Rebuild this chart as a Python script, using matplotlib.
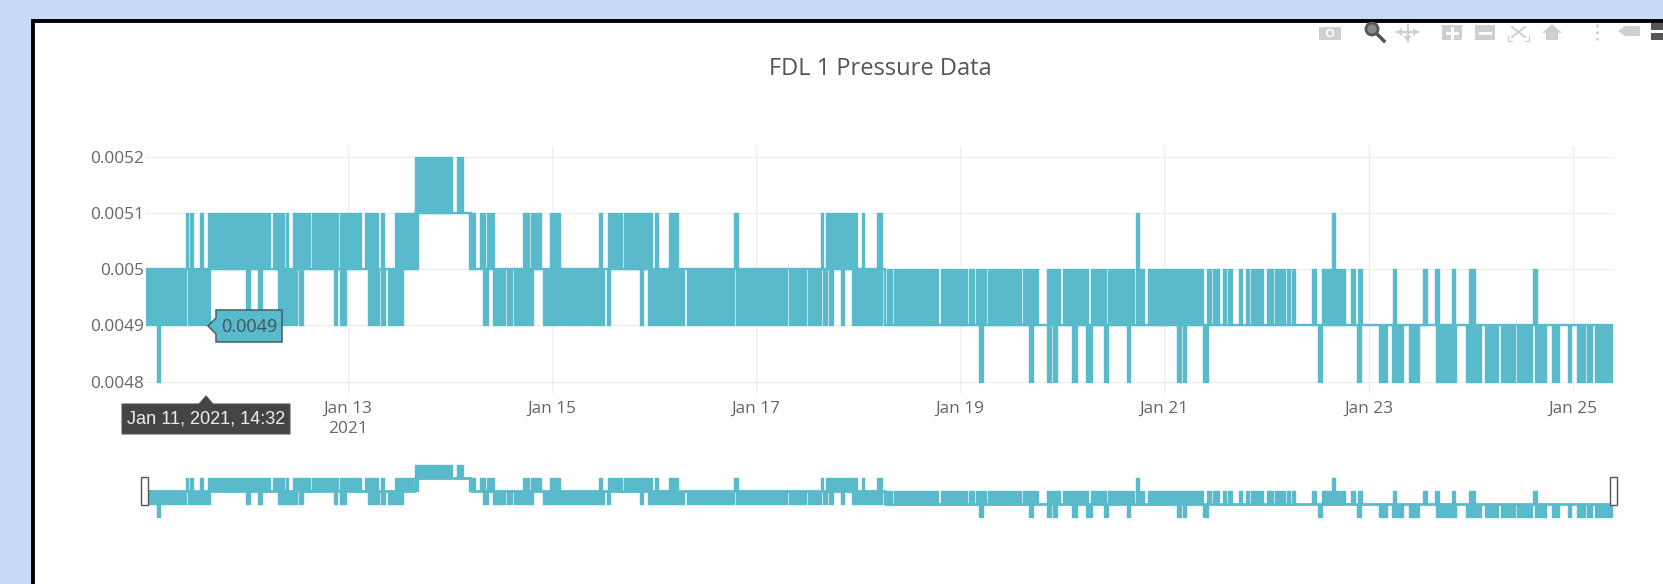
import datetime as dt
import matplotlib
matplotlib.use("Agg")
import matplotlib.pyplot as plt
import matplotlib.dates as mdates
from matplotlib.patches import Rectangle, Polygon, Circle

plt.rcParams['font.family'] = ['Open Sans', 'DejaVu Sans']

# ── Data ────────────────────────────────────────────────
# time is counted in samples (14.1 min) from T0
T0 = dt.datetime(2021, 1, 11, 0, 23)
SAMPLE_MIN = 14.104

# trace flips so fast between two levels that it reads as a solid band,
# so each list holds (from, to) sample spans where it is doing that
BAND_0051_0052 = [(270, 299), (300, 307), (312, 318)]

BAND_0050_0051 = [
    (41, 43), (45, 48), (55, 58), (63, 125), (128, 139), (141, 143), (148, 157),
    (158, 165), (167, 188), (189, 193), (195, 198), (199, 207), (208, 216),
    (220, 233), (236, 239), (250, 268), (270, 273), (324, 330), (335, 340),
    (342, 349), (378, 384), (386, 389), (390, 396), (405, 412), (413, 415),
    (454, 457), (463, 470), (471, 477), (479, 492), (493, 507), (510, 513),
    (524, 533), (589, 593), (676, 678), (681, 708), (709, 712), (717, 719),
    (732, 737), (991, 994), (1187, 1190),
]

BAND_0049_0050 = [
    (1, 41), (43, 47), (48, 65), (101, 105), (113, 117), (133, 147), (148, 152),
    (154, 158), (189, 192), (195, 201), (223, 234), (236, 240), (243, 258),
    (338, 343), (348, 360), (362, 367), (369, 388), (398, 421), (422, 442),
    (443, 459), (462, 465), (495, 498), (503, 539), (542, 589), (591, 642),
    (644, 661), (663, 676), (678, 682), (684, 688), (696, 699), (707, 737),
    (739, 740), (742, 747), (749, 793), (796, 822), (824, 829), (831, 841),
    (843, 876), (878, 893), (902, 906), (907, 915), (918, 934), (935, 943),
    (946, 952), (953, 961), (963, 989), (991, 999), (1003, 1058), (1062, 1066),
    (1068, 1074), (1078, 1081), (1083, 1087), (1094, 1097), (1101, 1104),
    (1106, 1118), (1122, 1128), (1130, 1140), (1142, 1145), (1147, 1150),
    (1167, 1171), (1177, 1200), (1206, 1210), (1213, 1217), (1248, 1251),
    (1278, 1282), (1290, 1294), (1307, 1310), (1324, 1330), (1388, 1392),
]

BAND_0048_0049 = [
    (12, 15), (834, 838), (884, 888), (902, 906), (908, 912), (927, 932),
    (941, 947), (959, 963), (982, 985), (1032, 1036), (1038, 1041), (1058, 1063),
    (1173, 1177), (1212, 1216), (1234, 1238), (1239, 1242), (1247, 1258),
    (1264, 1274), (1291, 1311), (1321, 1336), (1340, 1353), (1356, 1370),
    (1372, 1387), (1390, 1401), (1407, 1414), (1423, 1426), (1432, 1440),
    (1442, 1447), (1450, 1467),
]

# level the trace rests on between the bands
REST_SAMPLES = [1, 270, 326, 740, 1467]
REST_LEVELS = [0.005, 0.0051, 0.005, 0.0049, 0.0049]

Y_TICKS = [0.0048, 0.0049, 0.005, 0.0051, 0.0052]
Y_LABELS = ['0.0048', '0.0049', '0.005', '0.0051', '0.0052']
X_TICK_DAYS = [13, 15, 17, 19, 21, 23, 25]
X_LABELS = ['Jan 13\n2021', 'Jan 15', 'Jan 17', 'Jan 19', 'Jan 21', 'Jan 23', 'Jan 25']

TEAL = '#59BACB'
W, H = 1663, 584


def to_date(sample):
    return mdates.date2num(T0 + dt.timedelta(minutes=sample * SAMPLE_MIN))


def px_axes(zorder):
    """Full-figure axes that work in reference pixels"""
    a = fig.add_axes([0, 0, 1, 1], zorder=zorder)
    a.set_xlim(0, W)
    a.set_ylim(H, 0)
    a.axis('off')
    a.patch.set_alpha(0)
    return a


def data_axes(left, top, right, bottom):
    return fig.add_axes([left / W, 1 - bottom / H, (right - left) / W, (bottom - top) / H])


def draw_trace(ax, edge, rest_lw):
    lanes = [(BAND_0051_0052, 0.0051, 0.0052), (BAND_0050_0051, 0.005, 0.0051),
             (BAND_0049_0050, 0.0049, 0.005), (BAND_0048_0049, 0.0048, 0.0049)]
    for spans, lo, hi in lanes:
        for a, b in spans:
            ax.fill_between([to_date(a), to_date(b)], lo, hi, color=TEAL, lw=edge, zorder=3)
    ax.step([to_date(s) for s in REST_SAMPLES], REST_LEVELS, where='post',
            color=TEAL, lw=rest_lw, zorder=3)


fig = plt.figure(figsize=(W / 100, H / 100), dpi=100, facecolor='#C9DAF8')

# ── Card behind the charts ──────────────────────────────
back = px_axes(0)
back.add_patch(Rectangle((33, 21), W, H, facecolor='white', edgecolor='black', lw=2.8))

# ── Main chart ──────────────────────────────────────────
ax = data_axes(146, 146, 1614, 393)
ax.set_zorder(1)
ax.patch.set_alpha(0)
draw_trace(ax, 1.0, 1.7)
ax.set_xlim(to_date(1), to_date(1469))
ax.set_ylim(0.00478, 0.005219)
ax.set_yticks(Y_TICKS, Y_LABELS)
ax.set_xticks([mdates.date2num(dt.datetime(2021, 1, d)) for d in X_TICK_DAYS], X_LABELS)
ax.grid(color='#EEEEEE', lw=0.9)
ax.set_axisbelow(True)
ax.tick_params(length=0, labelsize=12.4, labelcolor='#666666')
ax.tick_params(axis='y', pad=1.5)
ax.tick_params(axis='x', pad=5.5)
for lab in ax.get_xticklabels():
    lab.set_linespacing(1.35)
for s in ax.spines.values():
    s.set_visible(False)
ax.set_title('FDL 1 Pressure Data', fontsize=17, color='#555555', pad=51)

# ── Range slider ────────────────────────────────────────
mini = data_axes(146, 460, 1614, 522)
mini.set_zorder(1)
draw_trace(mini, 1.0, 2.0)
mini.set_xlim(to_date(1), to_date(1469))
mini.set_ylim(0.0048 - 0.0000431, 0.0052 + 0.0000431)
mini.axis('off')

# ── Hover labels, slider handles, toolbar ───────────────
top = px_axes(5)
for x0 in (141, 1610):
    top.add_patch(Rectangle((x0, 477), 6.5, 28, facecolor='white', edgecolor='#555555', lw=1))

top.add_patch(Polygon([(208, 326), (216, 318), (216, 310), (282, 310), (282, 342), (216, 342), (216, 334)],
                      facecolor=TEAL, edgecolor='#3F5F68', lw=1.1))
top.text(249, 326.5, '0.0049', ha='center', va='center', fontsize=13, color='#3C5560')

top.add_patch(Polygon([(122, 404), (199, 404), (206, 396), (213, 404), (290, 404), (290, 434), (122, 434)],
                      facecolor='#444444', edgecolor='#555555', lw=0.8))
top.text(206, 419.5, 'Jan 11, 2021, 14:32', ha='center', va='center', fontsize=13.1,
         color='#EEEEEE', family=['Liberation Sans', 'DejaVu Sans'])

ICON = '#CFCFCF'
# camera
top.add_patch(Rectangle((1319, 27), 22, 13, facecolor=ICON, lw=0))
top.add_patch(Circle((1330, 33), 4.2, facecolor='white', lw=0))
top.add_patch(Circle((1330, 33), 2.6, facecolor=ICON, lw=0))
# zoom (active)
top.add_patch(Circle((1372, 29), 6, facecolor='#8A8A8A', edgecolor='#555555', lw=2))
top.plot([1377, 1384], [34, 41], color='#555555', lw=2.5)
# pan
top.plot([1397, 1418], [32, 32], color=ICON, lw=1.6)
top.plot([1407.5, 1407.5], [25, 41], color=ICON, lw=1.6)
top.add_patch(Polygon([(1397, 32), (1402, 28), (1402, 36)], facecolor=ICON, lw=0))
top.add_patch(Polygon([(1418, 32), (1413, 28), (1413, 36)], facecolor=ICON, lw=0))
top.add_patch(Polygon([(1407.5, 41), (1403.5, 36), (1411.5, 36)], facecolor=ICON, lw=0))
# zoom in / zoom out
for x0, has_bar in ((1442, True), (1475, False)):
    top.add_patch(Rectangle((x0, 25), 20, 15, facecolor=ICON, lw=0))
    top.plot([x0 + 5, x0 + 15], [32.5, 32.5], color='white', lw=2)
    if has_bar:
        top.plot([x0 + 10, x0 + 10], [27.5, 37.5], color='white', lw=2)
# autoscale
top.plot([1512, 1525], [27, 37], color=ICON, lw=1.4)
top.plot([1525, 1512], [27, 37], color=ICON, lw=1.4)
top.plot([1508, 1508, 1512], [36, 41, 41], color=ICON, lw=0.9)
top.plot([1529, 1529, 1525], [36, 41, 41], color=ICON, lw=0.9)
# home
top.add_patch(Polygon([(1542, 33), (1552, 24), (1562, 33), (1558, 33), (1558, 40), (1546, 40), (1546, 33)],
                      facecolor=ICON, lw=0))
# spike lines
top.plot([1597, 1597], [24, 40], color=ICON, lw=2, ls=(0, (1, 1.5)))
# hover tag
top.add_patch(Polygon([(1618, 31), (1625, 26), (1640, 26), (1640, 36), (1625, 36)], facecolor=ICON, lw=0))
# compare tags (active)
top.add_patch(Rectangle((1651, 23), 12, 7, facecolor='#555555', lw=0))
top.add_patch(Rectangle((1651, 33), 12, 7, facecolor='#555555', lw=0))

fig.savefig('out.png', dpi=100, facecolor=fig.get_facecolor())
